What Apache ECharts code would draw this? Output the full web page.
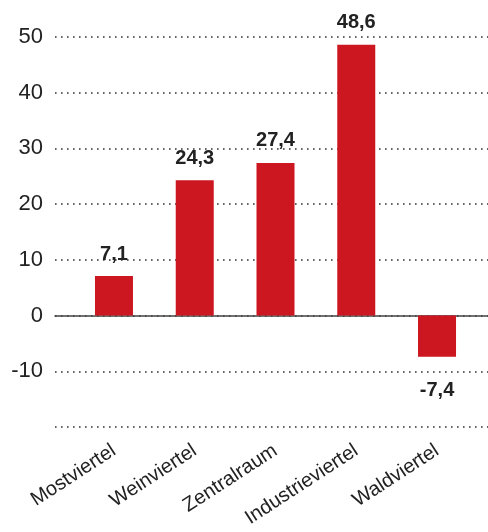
<!DOCTYPE html>
<html>
<head>
<meta charset="utf-8">
<script src="https://cdn.jsdelivr.net/npm/echarts@6/dist/echarts.min.js"></script>
<style>
  html, body { margin: 0; padding: 0; background: #fff; }
  #container { width: 488px; height: 532px; }
</style>
</head>
<body>
<div id="container"></div>
<script>
var regions = ['Mostviertel', 'Weinviertel', 'Zentralraum', 'Industrieviertel', 'Waldviertel'];
var values = [7.1, 24.3, 27.4, 48.6, -7.4];
var yMin = -20, yMax = 50, yStep = 10;

var dom = document.getElementById('container');
var myChart = echarts.init(dom);

// negative bars get their label below the bar
var barData = values.map(function (v) {
  return {
    value: v,
    label: v < 0 ? { position: 'bottom', distance: 24 } : { position: 'top', distance: 12 }
  };
});

var option = {
  animation: false,
  textStyle: { fontFamily: 'Liberation Sans' },
  grid: [
    { left: 55, right: 0, top: 37, bottom: 105, outerBoundsMode: 'none' },
    { left: 73.6, right: 10.6, top: 37, bottom: 105, outerBoundsMode: 'none' }
  ],
  xAxis: [
    {
      gridIndex: 0,
      type: 'category',
      data: [''],
      axisLine: { show: true, onZero: true, lineStyle: { color: '#444', width: 1.5 } },
      axisTick: { show: false },
      axisLabel: { show: false }
    },
    {
      gridIndex: 1,
      type: 'category',
      data: regions,
      axisLine: { show: false, onZero: false },
      axisTick: { show: false },
      axisLabel: {
        rotate: 33,
        margin: 22,
        fontSize: 20,
        fontFamily: '"Liberation Sans Narrow", "Liberation Sans"',
        color: '#222',
        interval: 0
      }
    }
  ],
  yAxis: [
    {
      gridIndex: 0,
      type: 'value',
      min: yMin,
      max: yMax,
      interval: yStep,
      axisLine: { show: false },
      axisTick: { show: false },
      axisLabel: {
        margin: 12,
        fontSize: 22,
        fontFamily: '"Liberation Sans Narrow", "Liberation Sans"',
        color: '#222',
        formatter: function (v) { return v === yMin ? '' : String(v); }
      },
      splitLine: {
        show: true,
        lineStyle: { color: '#333', width: 1.6, type: [1.6, 4.4] }
      }
    },
    {
      gridIndex: 1,
      type: 'value',
      min: yMin,
      max: yMax,
      interval: yStep,
      show: false
    }
  ],
  series: [{
    type: 'bar',
    xAxisIndex: 1,
    yAxisIndex: 1,
    data: barData,
    barWidth: 38,
    itemStyle: { color: '#cd1720' },
    label: {
      show: true,
      fontSize: 20,
      fontWeight: 'bold',
      color: '#222',
      formatter: function (p) { return p.value.toFixed(1).replace('.', ','); }
    }
  }]
};
myChart.setOption(option, true);
</script>
</body>
</html>
